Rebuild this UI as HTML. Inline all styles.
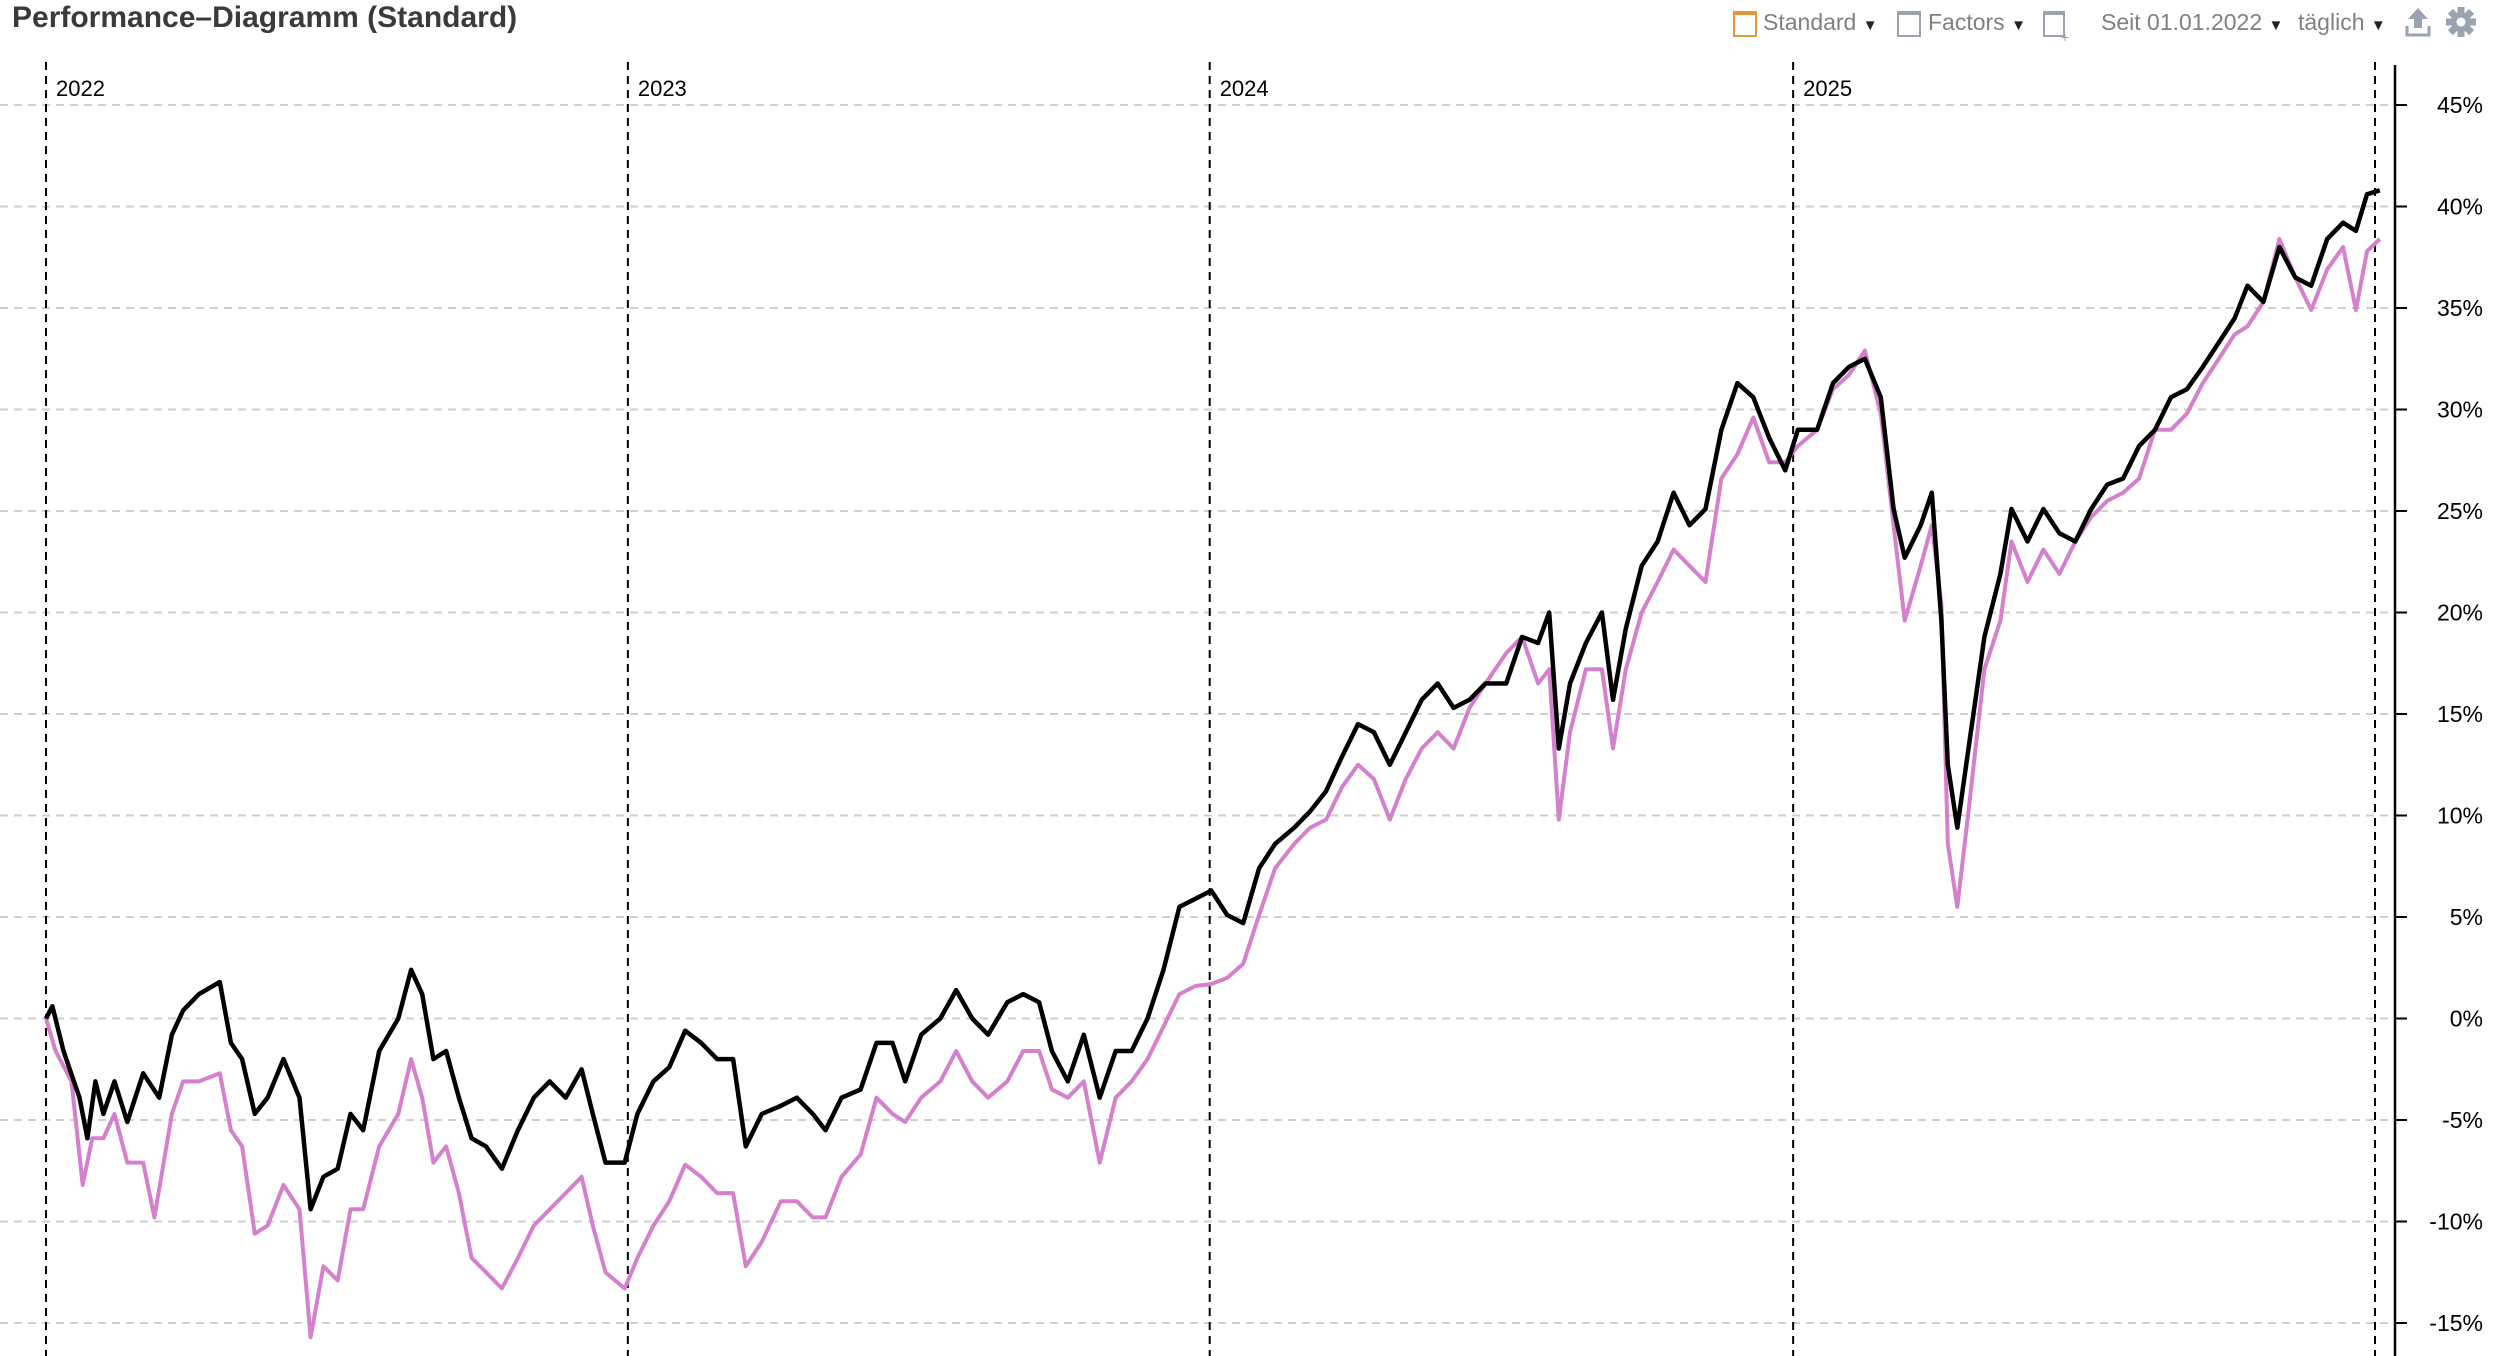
<!DOCTYPE html>
<html><head><meta charset="utf-8"><style>
html,body{margin:0;padding:0;background:#fff;}
body{width:2494px;height:1356px;overflow:hidden;position:relative;font-family:"Liberation Sans",sans-serif;}
.t{position:absolute;white-space:nowrap;}
</style></head><body>
<div class="t" style="left:12px;top:1px;font-size:30px;font-weight:bold;color:#3a3a3a;">Performance–Diagramm (Standard)</div>
<div>
<div style="position:absolute;left:1733px;top:11px;width:20px;height:20px;border:2px solid #e8963a;border-top-width:4px;"></div>
<div class="t" style="left:1763px;top:9px;font-size:23px;color:#808080;">Standard <span style="font-size:15px;color:#222">▼</span></div>
<div style="position:absolute;left:1897px;top:11px;width:20px;height:20px;border:2px solid #9aa3b0;border-top-width:4px;"></div>
<div class="t" style="left:1928px;top:9px;font-size:23px;color:#808080;">Factors <span style="font-size:15px;color:#222">▼</span></div>
<div style="position:absolute;left:2043px;top:11px;width:18px;height:20px;border:2px solid #9aa3b0;border-top-width:4px;"><span style="position:absolute;right:-6px;bottom:-10px;font-size:14px;color:#9aa3b0;">+</span></div>
<div class="t" style="left:2101px;top:9px;font-size:23px;color:#808080;">Seit 01.01.2022 <span style="font-size:15px;color:#222">▼</span></div>
<div class="t" style="left:2298px;top:9px;font-size:23px;color:#808080;">täglich <span style="font-size:15px;color:#222">▼</span></div>
<svg style="position:absolute;left:2404px;top:6px" width="28" height="32"><path d="M14 2 L24 13 H18 V22 H10 V13 H4 Z" fill="#9aa3b0"/><path d="M3 20 V29 H25 V20" stroke="#9aa3b0" stroke-width="3" fill="none"/></svg>
<svg style="position:absolute;left:2445px;top:6px" width="32" height="32"><g fill="#9aa3b0" transform="translate(16,16)"><circle r="10"/><g id="tt"><rect x="-3.5" y="-15" width="7" height="8"/></g><use href="#tt" transform="rotate(45)"/><use href="#tt" transform="rotate(90)"/><use href="#tt" transform="rotate(135)"/><use href="#tt" transform="rotate(180)"/><use href="#tt" transform="rotate(225)"/><use href="#tt" transform="rotate(270)"/><use href="#tt" transform="rotate(315)"/></g><circle cx="16" cy="16" r="4.5" fill="#fff"/></svg>
</div>
<svg id="chart" style="position:absolute;left:0;top:0" width="2494" height="1356"></svg>
<script>
const yTicks=[45,40,35,30,25,20,15,10,5,0,-5,-10,-15];
const yearLabels=["2022","2023","2024","2025"];
const yearDays=[0,365,730,1096];
const endDay=1461;
const daysBlack=[0,4,11,21,26,31,36,43,51,61,71,79,86,96,109,116,123,131,139,149,159,166,174,183,191,199,209,221,229,236,243,251,259,267,276,286,296,306,316,326,336,343,351,363,371,381,391,401,411,421,431,439,449,461,471,481,489,499,511,521,531,539,549,561,571,581,591,603,613,623,631,641,651,661,671,681,691,701,711,721,731,741,751,761,771,783,793,803,813,823,833,843,853,863,873,883,893,903,916,926,936,943,949,956,966,976,983,991,1001,1011,1021,1031,1041,1051,1061,1071,1081,1091,1099,1111,1121,1131,1141,1151,1159,1166,1176,1183,1189,1193,1199,1206,1216,1226,1233,1243,1253,1263,1273,1283,1293,1303,1313,1323,1333,1343,1353,1363,1373,1381,1391,1401,1411,1421,1431,1441,1449,1456,1464];
const valuesBlack=[0,0.6,-1.6,-3.9,-5.9,-3.1,-4.7,-3.1,-5.1,-2.7,-3.9,-0.8,0.4,1.2,1.8,-1.2,-2,-4.7,-3.9,-2,-3.9,-9.4,-7.8,-7.4,-4.7,-5.5,-1.6,0,2.4,1.2,-2,-1.6,-3.9,-5.9,-6.3,-7.4,-5.5,-3.9,-3.1,-3.9,-2.5,-4.7,-7.1,-7.1,-4.7,-3.1,-2.4,-0.6,-1.2,-2,-2,-6.3,-4.7,-4.3,-3.9,-4.7,-5.5,-3.9,-3.5,-1.2,-1.2,-3.1,-0.8,0,1.4,0,-0.8,0.8,1.2,0.8,-1.6,-3.1,-0.8,-3.9,-1.6,-1.6,0,2.4,5.5,5.9,6.3,5.1,4.7,7.4,8.6,9.4,10.2,11.2,12.9,14.5,14.1,12.5,14.1,15.7,16.5,15.3,15.7,16.5,16.5,18.8,18.5,20,13.3,16.5,18.5,20,15.7,19.2,22.3,23.5,25.9,24.3,25.1,29,31.3,30.6,28.6,27,29,29,31.3,32.1,32.5,30.6,25.1,22.7,24.3,25.9,19.6,12.5,9.4,13.3,18.8,21.9,25.1,23.5,25.1,23.9,23.5,25.1,26.3,26.6,28.2,29,30.6,31,32.1,33.3,34.5,36.1,35.3,38,36.5,36.1,38.4,39.2,38.8,40.6,40.8];
const daysPink=[0,6,16,23,29,36,43,51,61,68,79,86,96,109,116,123,131,139,149,159,166,174,183,191,199,209,221,229,236,243,251,259,267,276,286,296,306,316,326,336,343,351,363,371,381,391,401,411,421,431,439,449,461,471,481,489,499,511,521,531,539,549,561,571,581,591,603,613,623,631,641,651,661,671,681,691,701,711,721,731,741,751,761,771,783,793,803,813,823,833,843,853,863,873,883,893,903,916,926,936,943,949,956,966,976,983,991,1001,1011,1021,1031,1041,1051,1061,1071,1081,1091,1099,1111,1121,1131,1141,1151,1159,1166,1176,1183,1189,1193,1199,1206,1216,1226,1233,1243,1253,1263,1273,1283,1293,1303,1313,1323,1333,1343,1353,1363,1373,1381,1391,1401,1411,1421,1431,1441,1449,1456,1464];
const valuesPink=[0,-1.6,-3.1,-8.2,-5.9,-5.9,-4.7,-7.1,-7.1,-9.8,-4.7,-3.1,-3.1,-2.7,-5.5,-6.3,-10.6,-10.2,-8.2,-9.4,-15.7,-12.2,-12.9,-9.4,-9.4,-6.3,-4.7,-2,-3.9,-7.1,-6.3,-8.6,-11.8,-12.5,-13.3,-11.8,-10.2,-9.4,-8.6,-7.8,-10.2,-12.5,-13.3,-11.8,-10.2,-9,-7.2,-7.8,-8.6,-8.6,-12.2,-11,-9,-9,-9.8,-9.8,-7.8,-6.7,-3.9,-4.7,-5.1,-3.9,-3.1,-1.6,-3.1,-3.9,-3.1,-1.6,-1.6,-3.5,-3.9,-3.1,-7.1,-3.9,-3.1,-2,-0.4,1.2,1.6,1.7,2,2.7,5.1,7.4,8.6,9.4,9.8,11.4,12.5,11.8,9.8,11.8,13.3,14.1,13.3,15.3,16.5,18,18.8,16.5,17.2,9.8,14.1,17.2,17.2,13.3,17.2,20,21.5,23.1,22.3,21.5,26.6,27.8,29.6,27.4,27.4,28.2,29,31,31.7,32.9,29.8,24.3,19.6,22.3,24.3,20.4,8.6,5.5,10.2,17.2,19.6,23.5,21.5,23.1,21.9,23.5,24.7,25.5,25.9,26.6,29,29,29.8,31.3,32.5,33.7,34.1,35.3,38.4,36.5,34.9,36.9,38,34.9,37.8,38.4];

const NS="http://www.w3.org/2000/svg";
const svg=document.getElementById('chart');
const X0=46,X1=2375,AX=2395;
function xs(d){return X0+(d/endDay)*(X1-X0);}
function ys(v){return 1018.5-v*20.3;}
function mk(tag,attrs){const e=document.createElementNS(NS,tag);for(const k in attrs)e.setAttribute(k,attrs[k]);svg.appendChild(e);return e;}
yTicks.forEach(v=>{
  const g=mk('line',{x1:0,x2:AX,y1:ys(v),y2:ys(v),stroke:'#cfcfcf','stroke-width':2,'stroke-dasharray':'8,6'});
  
  
  const tk=mk('line',{x1:AX,x2:AX+12,y1:ys(v),y2:ys(v),stroke:'#000','stroke-width':2});
  
  
  const t=mk('text',{x:2483,y:ys(v)+8,'text-anchor':'end','font-size':23,'font-family':'Liberation Sans, sans-serif',fill:'#000'});
  t.textContent=v+'%';
  
  
});
yearLabels.forEach((lab,i)=>{
  const x=xs(yearDays[i]);
  const l=mk('line',{x1:x,x2:x,y1:62,y2:1356,stroke:'#000','stroke-width':2,'stroke-dasharray':'8,6'});
  
  
  const t=mk('text',{x:x+10,y:96,'font-size':22,'font-family':'Liberation Sans, sans-serif',fill:'#000'});
  t.textContent=lab;
  
  
});
const el=mk('line',{x1:X1,x2:X1,y1:62,y2:1356,stroke:'#000','stroke-width':2,'stroke-dasharray':'8,6'});


const ax=mk('line',{x1:AX,x2:AX,y1:65,y2:1356,stroke:'#000','stroke-width':2.5});


function path(days,vals,color,w,name){
  const n=Math.min(days.length,vals.length);let d='';
  for(let i=0;i<n;i++)d+=(i?'L':'M')+xs(days[i]).toFixed(1)+' '+ys(vals[i]).toFixed(1);
  const p=mk('path',{d:d,fill:'none',stroke:color,'stroke-width':w,'stroke-linejoin':'round'});
  
  
}
path(daysPink,valuesPink,'#d580cd',4,'benchmark-line');
path(daysBlack,valuesBlack,'#000',4.5,'portfolio-line');
</script>
</body></html>
